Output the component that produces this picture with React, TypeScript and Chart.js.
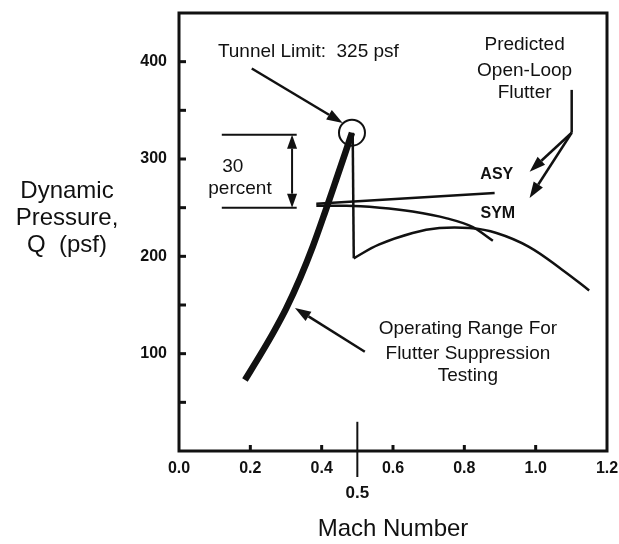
import React, { useEffect, useRef } from 'react';
import { Chart, registerables } from 'chart.js';

Chart.register(...registerables);

const INK = '#111111';
const FONT = '"Liberation Sans", Arial, Helvetica, sans-serif';

// Operating range for flutter suppression testing (thick curve)
const operatingMach = [0.185, 0.23, 0.265, 0.3, 0.34, 0.375, 0.41, 0.44, 0.465, 0.485];
const operatingQ = [73, 100, 122, 146, 178, 210, 246, 278, 305, 327];

// Tunnel drop (vertical thin line) and tunnel boundary curve
const dropMach = [0.487, 0.49];
const dropQ = [327, 198];
const boundaryMach = [0.49, 0.56, 0.655, 0.73, 0.815, 0.89, 0.98, 1.075, 1.15];
const boundaryQ = [198, 212, 224, 229, 229, 224, 210, 186, 165];

// Predicted open-loop flutter boundaries
const symMach = [0.385, 0.47, 0.563, 0.655, 0.751, 0.824, 0.88];
const symQ = [252, 252, 250, 246, 239, 230, 216];
const asyMach = [0.385, 0.885];
const asyQ = [254, 265];

// Axis tick definitions
const yLabelValues = [100, 200, 300, 400];
const yMinorTicks = [50, 100, 150, 200, 250, 300, 350, 400];
const xMinorTicks = [0.2, 0.4, 0.6, 0.8, 1.0];

function pts(xs: number[], ys: number[]) {
  return xs.map((x, i) => ({ x, y: ys[i] }));
}

function seg(ctx: CanvasRenderingContext2D, x1: number, y1: number, x2: number, y2: number) {
  ctx.beginPath();
  ctx.moveTo(x1, y1);
  ctx.lineTo(x2, y2);
  ctx.stroke();
}

function head(ctx: CanvasRenderingContext2D, x1: number, y1: number, x2: number, y2: number, len = 14, w = 5) {
  const ang = Math.atan2(y2 - y1, x2 - x1);
  const bx = x2 - len * Math.cos(ang);
  const by = y2 - len * Math.sin(ang);
  ctx.beginPath();
  ctx.moveTo(x2, y2);
  ctx.lineTo(bx + w * Math.sin(ang), by - w * Math.cos(ang));
  ctx.lineTo(bx - w * Math.sin(ang), by + w * Math.cos(ang));
  ctx.closePath();
  ctx.fill();
  return { bx, by };
}

function arrow(ctx: CanvasRenderingContext2D, x1: number, y1: number, x2: number, y2: number, len = 14, w = 5) {
  const { bx, by } = head(ctx, x1, y1, x2, y2, len, w);
  seg(ctx, x1, y1, bx, by);
}

const annotations = {
  id: 'annotations',
  afterDraw(chart: any) {
    const { ctx, chartArea: a, scales } = chart;
    const xs = scales.x;
    const ys = scales.y;
    const X = (m: number) => xs.getPixelForValue(m);
    const Y = (q: number) => ys.getPixelForValue(q);
    ctx.save();
    ctx.strokeStyle = INK;
    ctx.fillStyle = INK;
    ctx.lineCap = 'butt';

    // plot frame
    ctx.lineWidth = 3;
    ctx.strokeRect(a.left, a.top, a.right - a.left, a.bottom - a.top);

    // inward tick marks
    ctx.lineWidth = 3;
    yMinorTicks.forEach((q) => seg(ctx, a.left, Y(q), a.left + 7, Y(q)));
    xMinorTicks.forEach((m) => seg(ctx, X(m), a.bottom, X(m), a.bottom - 6));

    // M = 0.5 marker
    ctx.lineWidth = 2;
    seg(ctx, X(0.5), Y(30), X(0.5), a.bottom + 26);
    ctx.font = `bold 17px ${FONT}`;
    ctx.textAlign = 'center';
    ctx.textBaseline = 'middle';
    ctx.fillText('0.5', X(0.5), a.bottom + 42);

    // Y axis title (horizontal)
    ctx.font = `24px ${FONT}`;
    ctx.fillText('Dynamic', 67, 191);
    ctx.fillText('Pressure,', 67, 218);
    ctx.fillText('Q  (psf)', 67, 245);

    // Tunnel limit circle
    ctx.lineWidth = 2;
    ctx.beginPath();
    ctx.arc(X(0.485), Y(327), 13, 0, Math.PI * 2);
    ctx.stroke();

    ctx.font = `19px ${FONT}`;
    ctx.textAlign = 'left';
    ctx.fillText('Tunnel Limit:  325 psf', X(0.109), Y(410));
    ctx.lineWidth = 2.5;
    arrow(ctx, X(0.204), Y(393), X(0.459), Y(337), 16, 5.5);

    // Predicted open-loop flutter
    ctx.textAlign = 'center';
    ctx.fillText('Predicted', X(0.969), Y(417));
    ctx.fillText('Open-Loop', X(0.969), Y(391));
    ctx.fillText('Flutter', X(0.969), Y(368));
    ctx.lineWidth = 2.5;
    seg(ctx, X(1.101), Y(371), X(1.101), Y(327));
    arrow(ctx, X(1.101), Y(327), X(0.983), Y(287), 16, 5.5);
    arrow(ctx, X(1.101), Y(327), X(0.983), Y(260), 16, 5.5);

    ctx.font = `bold 16px ${FONT}`;
    ctx.fillText('ASY', X(0.891), Y(284));
    ctx.fillText('SYM', X(0.894), Y(244));

    // 30 percent bracket
    ctx.lineWidth = 2;
    seg(ctx, X(0.12), Y(325), X(0.33), Y(325));
    seg(ctx, X(0.12), Y(250), X(0.33), Y(250));
    const bxp = X(0.317);
    const { by: topBase } = head(ctx, bxp, Y(250), bxp, Y(325), 14, 5);
    const { by: botBase } = head(ctx, bxp, Y(325), bxp, Y(250), 14, 5);
    seg(ctx, bxp, topBase, bxp, botBase);
    ctx.font = `19px ${FONT}`;
    ctx.fillText('30', X(0.151), Y(292));
    ctx.fillText('percent', X(0.171), Y(269));

    // Operating range label
    ctx.fillText('Operating Range For', X(0.81), Y(126));
    ctx.fillText('Flutter Suppression', X(0.81), Y(100));
    ctx.fillText('Testing', X(0.81), Y(77));
    ctx.lineWidth = 2.5;
    arrow(ctx, X(0.521), Y(102), X(0.325), Y(147), 16, 5.5);

    ctx.restore();
  },
};

function zeroPad(s: any) {
  s.paddingTop = 0;
  s.paddingBottom = 0;
  s.paddingLeft = 0;
  s.paddingRight = 0;
}

export default function App() {
  const ref = useRef<HTMLCanvasElement | null>(null);

  useEffect(() => {
    if (!ref.current) return;
    const tickFont = { family: FONT, size: 16, weight: 'bold' as const };
    const chart = new Chart(ref.current, {
      type: 'line',
      data: {
        datasets: [
          {
            label: 'Operating range',
            data: pts(operatingMach, operatingQ),
            borderColor: INK,
            borderWidth: 6.5,
            cubicInterpolationMode: 'monotone',
            pointRadius: 0,
            borderCapStyle: 'butt',
          },
          {
            label: 'Tunnel drop',
            data: pts(dropMach, dropQ),
            borderColor: INK,
            borderWidth: 2.5,
            tension: 0,
            pointRadius: 0,
          },
          {
            label: 'Tunnel boundary',
            data: pts(boundaryMach, boundaryQ),
            borderColor: INK,
            borderWidth: 2.5,
            tension: 0.4,
            pointRadius: 0,
          },
          {
            label: 'SYM',
            data: pts(symMach, symQ),
            borderColor: INK,
            borderWidth: 2.5,
            cubicInterpolationMode: 'monotone',
            pointRadius: 0,
          },
          {
            label: 'ASY',
            data: pts(asyMach, asyQ),
            borderColor: INK,
            borderWidth: 2.5,
            tension: 0,
            pointRadius: 0,
          },
        ],
      },
      options: {
        animation: false,
        responsive: false,
        devicePixelRatio: 1,
        layout: { padding: { left: 0, right: 12, top: 13, bottom: 0 } },
        plugins: {
          legend: { display: false },
          tooltip: { enabled: false },
        },
        scales: {
          x: {
            type: 'linear',
            min: 0,
            max: 1.2,
            grid: { display: false, drawTicks: false },
            border: { display: false },
            ticks: {
              stepSize: 0.2,
              autoSkip: false,
              maxRotation: 0,
              padding: 8,
              color: INK,
              font: tickFont,
              callback: (v: any) => Number(v).toFixed(1),
            },
            title: {
              display: true,
              text: 'Mach Number',
              color: INK,
              font: { family: FONT, size: 24 },
              padding: { top: 0, bottom: 0 },
            },
            afterFit: (s: any) => {
              s.height = 93;
              zeroPad(s);
            },
          },
          y: {
            type: 'linear',
            min: 0,
            max: 450,
            grid: { display: false, drawTicks: false },
            border: { display: false },
            ticks: {
              stepSize: 50,
              autoSkip: false,
              padding: 12,
              color: INK,
              font: tickFont,
              callback: (v: any) => (yLabelValues.includes(Number(v)) ? String(v) : ''),
            },
            afterFit: (s: any) => {
              s.width = 179;
              zeroPad(s);
            },
          },
        },
      },
      plugins: [annotations],
    });
    return () => chart.destroy();
  }, []);

  return (
    <div style={{ position: 'fixed', left: 0, top: 0, width: 619, height: 544, background: '#fff' }}>
      <canvas ref={ref} width={619} height={544} style={{ display: 'block', width: 619, height: 544 }} />
    </div>
  );
}
